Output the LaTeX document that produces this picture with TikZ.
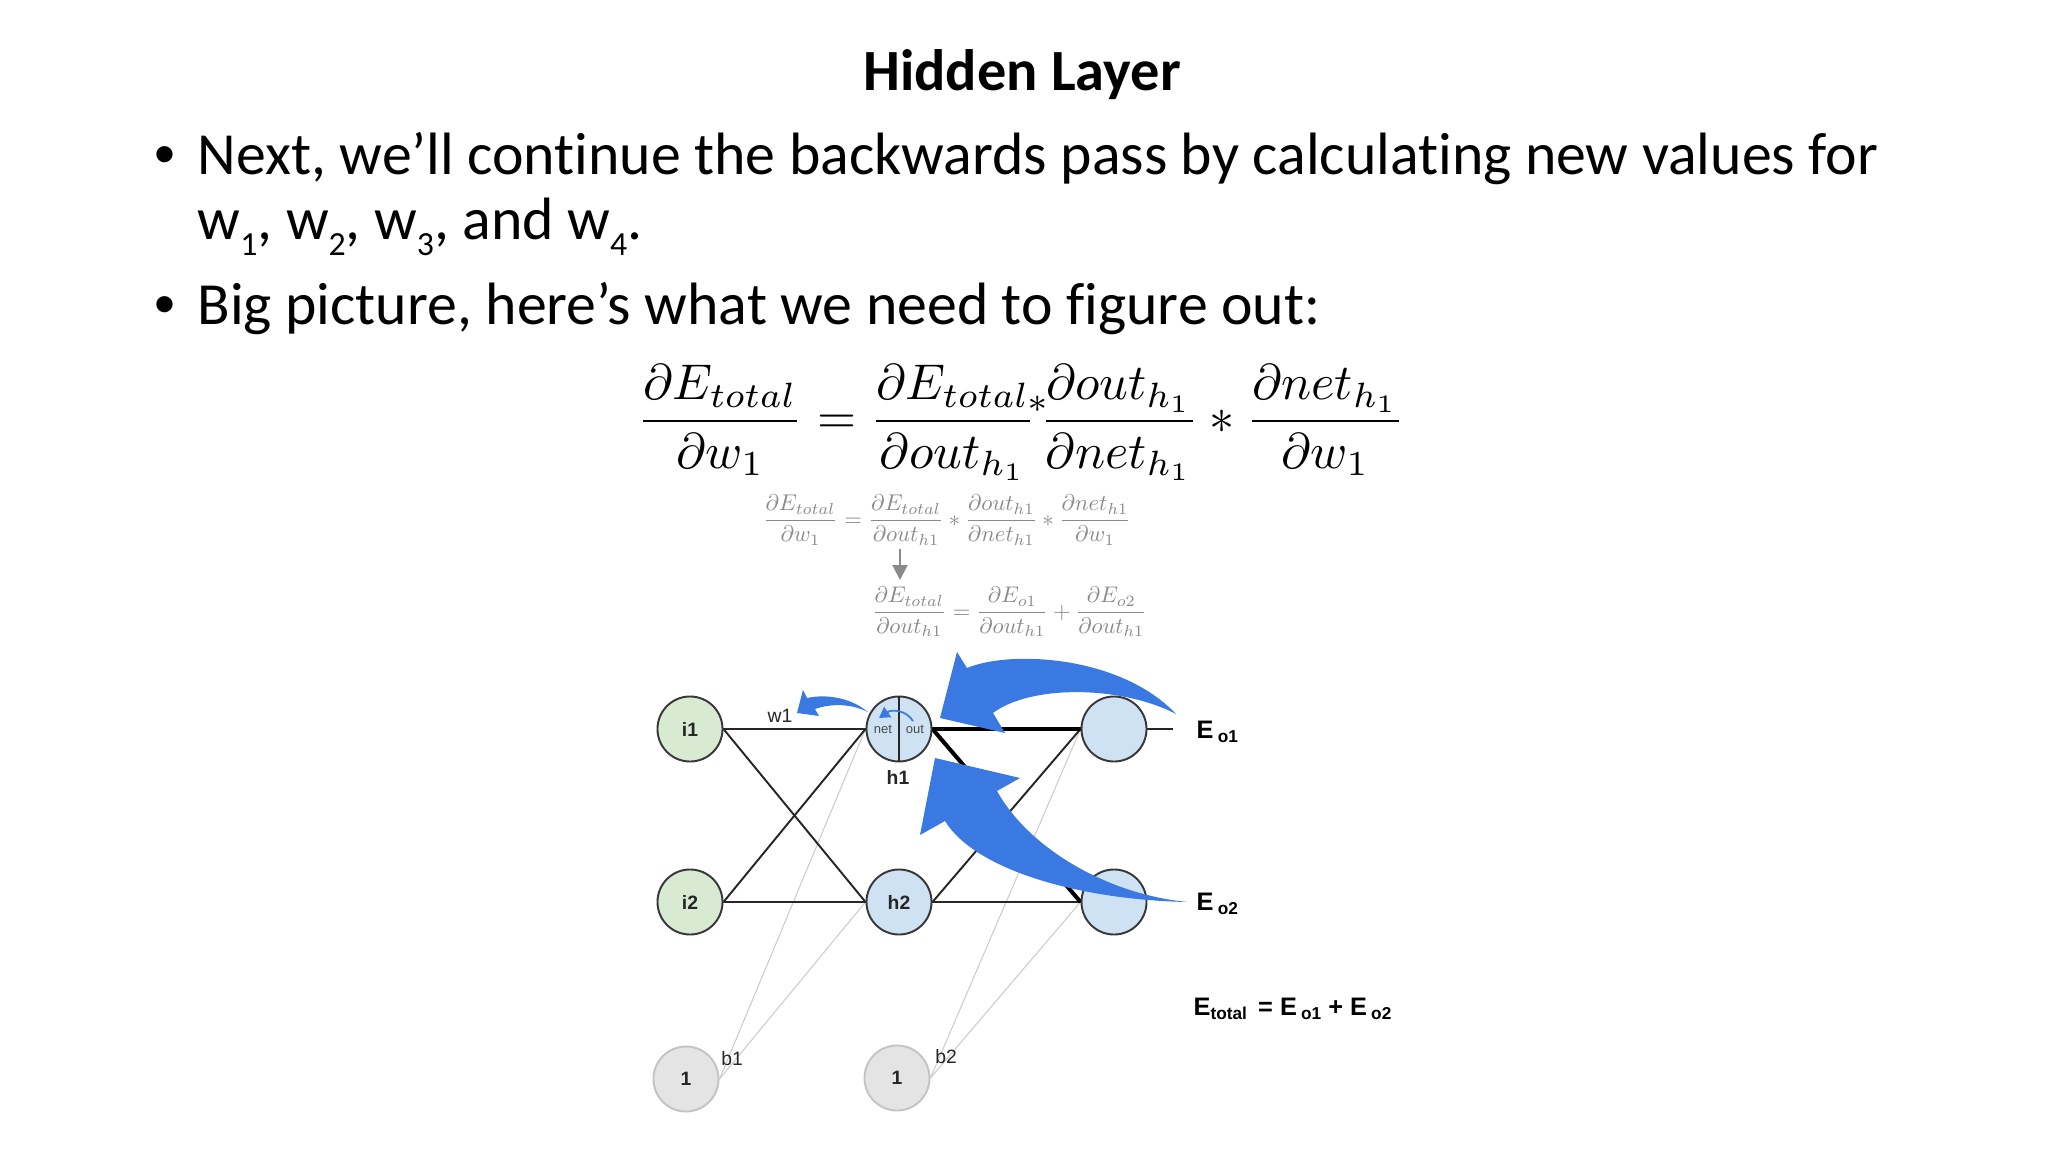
\documentclass[tikz,border=0pt]{standalone}
\usepackage[no-math]{fontspec}
\setmainfont[Ligatures=CommonOff]{Carlito}
\newfontfamily\arialf{Liberation Sans}
\usepackage{amsmath}
\usepackage{graphicx}
\usetikzlibrary{arrows.meta}
\pgfdeclarelayer{paper}
\pgfdeclarelayer{wires}
\pgfsetlayers{paper,wires,main}
\definecolor{ablue}{HTML}{3A78E2}
\definecolor{igreen}{HTML}{D9EAD3}
\definecolor{hblue}{HTML}{CFE2F3}
\definecolor{bgray}{HTML}{E4E4E4}
\definecolor{bborder}{HTML}{C4C4C4}
\definecolor{eqgray}{HTML}{8A8A8A}
\newcommand\wsub[1]{\raisebox{-4.3pt}{\fontsize{9.6}{10}\selectfont #1}}
\newcommand\esub[1]{\raisebox{-1.3pt}{\fontsize{4.9}{5}\selectfont #1}}
\begin{document}
\begin{tikzpicture}[x=0.01cm,y=-0.01cm,
  txt/.style={inner sep=0pt, anchor=base west, font=\fontsize{17}{20}\selectfont},
  bul/.style={inner sep=0pt, anchor=base, font=\arialf\fontsize{17}{20}\selectfont},
  neuron/.style={circle, minimum size=0.65cm, inner sep=0pt, draw=black!78, line width=0.55pt,
                 font=\arialf\bfseries\fontsize{5.5}{6}\selectfont, text=black!85},
  inp/.style={neuron, fill=igreen},
  hid/.style={neuron, fill=hblue},
  biasn/.style={neuron, fill=bgray, draw=bborder},
  wire/.style={line width=0.55pt, black!85},
  thickwire/.style={line width=1.15pt, black},
  biaswire/.style={line width=0.3pt, black!20},
  lbl/.style={inner sep=0pt, font=\arialf\fontsize{5.5}{6}\selectfont, text=black!85},
  hlbl/.style={inner sep=0pt, font=\arialf\bfseries\fontsize{5.5}{6}\selectfont, text=black!85},
  tiny/.style={inner sep=0pt, font=\arialf\fontsize{3.7}{4}\selectfont, text=black!70},
  errlbl/.style={inner sep=0pt, anchor=base west, font=\arialf\bfseries\fontsize{7.2}{8}\selectfont}
]
\begin{pgfonlayer}{paper}
\useasboundingbox[fill=white] (0,0) rectangle (2048,1152);
\end{pgfonlayer}

% ---- title and bullets ----
\node[inner sep=0pt, anchor=base, font=\bfseries\fontsize{16.6}{20}\selectfont] (title) at (1022,91) {Hidden Layer};
\node[bul] (bul1) at (165,175) {\textbullet};
\node[txt] (line1) at (197,175) {Next, we’ll continue the backwards pass by calculating new values for};
\node[txt] (line2) at (197,240) {w\wsub{1}, w\wsub{2}, w\wsub{3}, and w\wsub{4}.};
\node[bul] (bul2) at (165,325) {\textbullet};
\node[txt] (line3) at (197,325) {Big picture, here’s what we need to figure out:};

% ---- big equation ----
\node[inner sep=0pt] (bigeq) at (1021,423) {\resizebox{7.67cm}{!}{$\displaystyle
  \frac{\partial E_{total}}{\partial w_1} = \frac{\partial E_{total}}{\partial out_{h_1}}\!\raisebox{0.9ex}{$\scriptstyle *$}\!\frac{\partial out_{h_1}}{\partial net_{h_1}} * \frac{\partial net_{h_1}}{\partial w_1}$}};

% ---- small grey equations ----
\node[inner sep=0pt, text=eqgray] (seq1) at (947,520) {\resizebox{3.68cm}{!}{$\displaystyle
  \frac{\partial E_{total}}{\partial w_1} = \frac{\partial E_{total}}{\partial out_{h1}} * \frac{\partial out_{h1}}{\partial net_{h1}} * \frac{\partial net_{h1}}{\partial w_1}$}};
\node[inner sep=0pt, text=eqgray] (seq2) at (1009.5,612) {\resizebox{2.75cm}{!}{$\displaystyle
  \frac{\partial E_{total}}{\partial out_{h1}} = \frac{\partial E_{o1}}{\partial out_{h1}} + \frac{\partial E_{o2}}{\partial out_{h1}}$}};
\coordinate (ga) at (900,549);
\coordinate (gb) at (900,580);
\draw[eqgray, line width=0.6pt, -{Triangle[length=4.2pt,width=4.2pt]}] (ga) -- (gb);

% ---- network nodes ----
\node[inp] (i1) at (690,729) {i1};
\node[inp] (i2) at (690,902) {i2};
\node[hid] (h1) at (899,729) {};
\node[hid] (h2) at (899,902) {h2};
\node[hid] (o1) at (1114,729) {};
\node[hid] (o2) at (1114,902) {};
\node[biasn] (b1) at (686,1079) {1};
\node[biasn] (b2) at (897,1078) {1};
\coordinate (oend) at (1173,729);

% ---- connections (behind nodes) ----
\begin{pgfonlayer}{wires}
\draw[biaswire] (b1.east) -- (h1.west);
\draw[biaswire] (b1.east) -- (h2.west);
\draw[biaswire] (b2.east) -- (o1.west);
\draw[biaswire] (b2.east) -- (o2.west);
\draw[wire] (i1.east) -- (h1.west);
\draw[wire] (i1.east) -- (h2.west);
\draw[wire] (i2.east) -- (h1.west);
\draw[wire] (i2.east) -- (h2.west);
\draw[wire] (h2.east) -- (o1.west);
\draw[wire] (h2.east) -- (o2.west);
\draw[wire] (o1.east) -- (oend);
\draw[thickwire] (h1.east) -- (o1.west);
\draw[thickwire] (h1.east) -- (o2.west);
\end{pgfonlayer}

\draw[line width=0.55pt, black!85] (h1.north) -- (h1.south);
\node[tiny] (netl) at (883,729) {net};
\node[tiny] (outl) at (915,729) {out};

% ---- labels ----
\node[lbl] (w1l) at (780,716) {w1};
\node[hlbl] (h1l) at (898,777) {h1};
\node[lbl] (b1l) at (732,1059) {b1};
\node[lbl] (b2l) at (946,1057) {b2};
\node[errlbl] (eo1) at (1196,738) {E\,\esub{o1}};
\node[errlbl] (eo2) at (1196,910) {E\,\esub{o2}};
\node[errlbl] (etot) at (1193,1015) {E\esub{total}\ \,=\ E\,\esub{o1} + E\,\esub{o2}};

% ---- blue back-propagation arrows ----
\fill[ablue] (1176,714) .. controls (1120,655) and (1010,650) .. (967,668)
  -- (957,652) -- (940,718) -- (1005,733) -- (993,713)
  .. controls (1030,685) and (1120,685) .. (1176,714) -- cycle;
\fill[ablue] (1188,902) .. controls (1110,895) and (1030,850) .. (997,791)
  -- (1020,778) -- (935,758) -- (920,835) -- (945,821)
  .. controls (975,870) and (1080,900) .. (1188,902) -- cycle;
\fill[ablue] (868,712) .. controls (850,697) and (825,694) .. (807,698)
  -- (803,690) -- (797,713) -- (819,716) -- (815,709)
  .. controls (832,703) and (852,704) .. (868,712) -- cycle;
\draw[ablue, line width=0.5pt, -{Triangle[length=3pt,width=3.5pt]}] (913,721) .. controls (906,710) and (892,709) .. (879,718);
\end{tikzpicture}
\end{document}
